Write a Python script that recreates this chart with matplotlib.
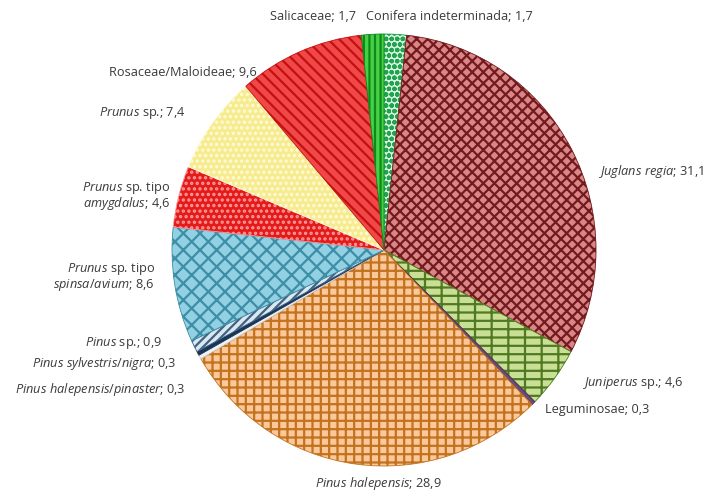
import matplotlib.pyplot as plt

plt.rcParams["font.family"] = ["Open Sans", "DejaVu Sans"]
plt.rcParams["mathtext.fontset"] = "custom"
plt.rcParams["mathtext.rm"] = "Open Sans"
plt.rcParams["mathtext.it"] = "Open Sans:italic"
plt.rcParams["hatch.linewidth"] = 1.6

# data, clockwise from 12 o'clock
taxa = [
    "Conifera indeterminada", "Juglans regia", "Juniperus sp.", "Leguminosae",
    "Pinus halepensis", "Pinus halepensis/pinaster", "Pinus sylvestris/nigra",
    "Pinus sp.", "Prunus sp. tipo spinsa/avium", "Prunus sp. tipo amygdalus",
    "Prunus sp.", "Rosaceae/Maloideae", "Salicaceae",
]
percent = [1.7, 31.1, 4.6, 0.3, 28.9, 0.3, 0.3, 0.9, 8.6, 4.6, 7.4, 9.6, 1.7]

labels = [
    "Conifera indeterminada; 1,7",
    r"$\it{Juglans\ regia}$; 31,1",
    r"$\it{Juniperus}$ sp.; 4,6",
    "Leguminosae; 0,3",
    r"$\it{Pinus\ halepensis}$; 28,9",
    r"$\it{Pinus\ halepensis/pinaster}$; 0,3",
    r"$\it{Pinus\ sylvestris/nigra}$; 0,3",
    r"$\it{Pinus}$ sp.; 0,9",
    r"$\it{Prunus}$ sp. tipo" "\n" r"$\it{spinsa/avium}$; 8,6",
    r"$\it{Prunus}$ sp. tipo" "\n" r"$\it{amygdalus}$; 4,6",
    r"$\it{Prunus}$ sp.; 7,4",
    "Rosaceae/Maloideae; 9,6",
    "Salicaceae; 1,7",
]

# styles: (face, hatch colour, hatch)
styles = [
    ("#d8f5df", "#22a350", "ooo"),
    ("#d88686", "#741a1e", "xxx"),
    ("#c9df95", "#4f7a22", "--|"),
    ("#6a4a7a", "#4a2a5a", None),
    ("#fcc799", "#c2731f", "++"),
    ("#eef2f4", "#c8d0d8", None),
    ("#1d3555", "#1d3555", None),
    ("#dce8f0", "#3f6382", "////"),
    ("#92d0e3", "#3d8ea6", "xx"),
    ("#e31b1b", "#ff9a9a", "..."),
    ("#f6eb8f", "#fffbd8", "..."),
    ("#f04848", "#c40f0f", "\\\\\\"),
    ("#46d046", "#0d8a1a", "|||"),
]

# label anchors in pixels (x, y from top) and alignment
label_pos = [
    (366, 17, "left"), (598, 172, "left"), (582, 383, "left"), (545, 409, "left"),
    (378, 483, "center"), (185, 390, "right"), (177, 364, "right"),
    (162, 343, "right"), (155, 277, "right"), (170, 196, "right"),
    (186, 113, "right"), (257, 73, "right"), (356, 17, "right"),
]

W, H = 712, 491
fig = plt.figure(figsize=(W / 100, H / 100), dpi=100)

cx, cy, rx, ry = 384, 250, 212, 216
ax = fig.add_axes([(cx - rx) / W, (H - cy - ry) / H, 2 * rx / W, 2 * ry / H])
wedges, _ = ax.pie(percent, startangle=90, counterclock=False, radius=1.0)
for w, (face, hc, hatch) in zip(wedges, styles):
    w.set_facecolor(face)
    w.set_edgecolor(hc)
    w.set_linewidth(0.6)
    if hatch:
        w.set_hatch(hatch)
ax.set_aspect("auto")
ax.set_xlim(-1, 1)
ax.set_ylim(-1, 1)
ax.axis("off")

for lab, (x, y, ha) in zip(labels, label_pos):
    fig.text(x / W, 1 - y / H, lab, ha=ha, va="center", fontsize=9.2,
             color="#3a3a3a", linespacing=0.95)

fig.savefig("out.png", dpi=100, facecolor="white")
